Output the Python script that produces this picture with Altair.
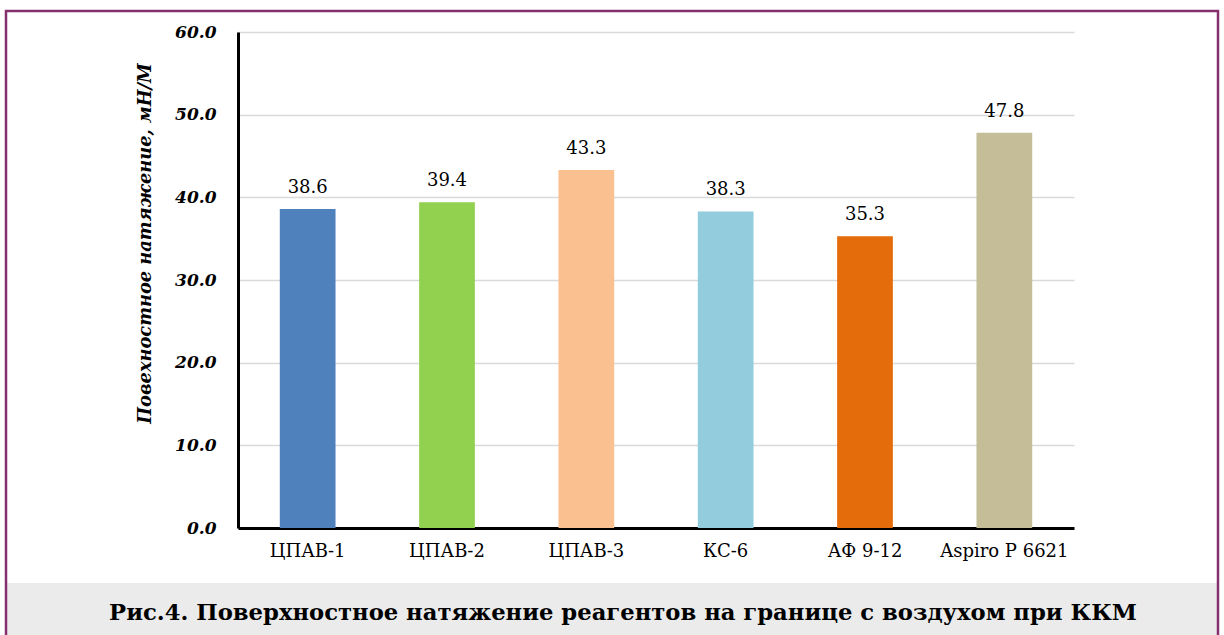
import altair as alt
import pandas as pd

categories = ["ЦПАВ-1", "ЦПАВ-2", "ЦПАВ-3", "КС-6", "АФ 9-12", "Aspiro P 6621"]
values = [38.6, 39.4, 43.3, 38.3, 35.3, 47.8]
colors = ["#4F81BD", "#92D050", "#FAC090", "#93CDDD", "#E46C0A", "#C4BD97"]
y_title = "Повехностное натяжение, мН/М"
caption = "Рис.4. Поверхностное натяжение реагентов на границе с воздухом при ККМ"

df = pd.DataFrame({"cat": categories, "val": values})
one = pd.DataFrame({"a": [0]})

SERIF = "DejaVu Serif"

x_enc = alt.X("cat:N", sort=categories, title=None,
              scale=alt.Scale(paddingInner=0.6, paddingOuter=0.3),
              axis=alt.Axis(labelAngle=0, labelFont=SERIF, labelFontSize=18,
                            labelColor="#000000", labelPadding=14, ticks=False,
                            domainColor="#000000", domainWidth=3))
y_enc = alt.Y("val:Q", title=y_title,
              scale=alt.Scale(domain=[0, 60], nice=False),
              axis=alt.Axis(values=[0, 10, 20, 30, 40, 50, 60], format=".1f",
                            labelFont=SERIF, labelFontSize=17, labelFontStyle="italic",
                            labelFontWeight="bold", labelColor="#000000", labelPadding=22,
                            ticks=False, domainColor="#000000", domainWidth=3,
                            grid=True, gridColor="#D9D9D9", gridWidth=1.5,
                            titleFont=SERIF, titleFontSize=17.8, titleFontStyle="italic",
                            titleFontWeight="bold", titleColor="#000000",
                            titleX=-93, titleY=211, titleAngle=-90, titleBaseline="middle",
                            titleAlign="center"))

bars = alt.Chart(df).mark_bar().encode(
    x=x_enc, y=y_enc,
    color=alt.Color("cat:N", scale=alt.Scale(domain=categories, range=colors), legend=None),
)
labels = alt.Chart(df).mark_text(font=SERIF, fontSize=18, color="#000000",
                                 baseline="bottom", dy=-12).encode(
    x=alt.X("cat:N", sort=categories), y="val:Q", text=alt.Text("val:Q", format=".1f"))

band = alt.Chart(one).mark_rect(color="#EAEBEA").encode(
    x=alt.value(-231), x2=alt.value(979), y=alt.value(551), y2=alt.value(604))
border = alt.Chart(one).mark_rect(fill=None, stroke="#84306E", strokeWidth=2.5).encode(
    x=alt.value(-232), x2=alt.value(980), y=alt.value(-21), y2=alt.value(640))
cap = alt.Chart(one).mark_text(font=SERIF, fontSize=22.7, fontWeight="bold", color="#000000",
                               align="center", baseline="middle", text=caption).encode(
    x=alt.value(385), y=alt.value(581))

chart = alt.layer(band, bars, labels, cap, border).properties(
    width=836, height=496,
    autosize=alt.AutoSizeParams(type="none"),
    padding={"left": 238, "top": 32, "right": 150, "bottom": 107},
    background="#FFFFFF",
).configure_view(stroke=None)

chart.save("out.html", embed_options={"renderer": "svg", "actions": False})
